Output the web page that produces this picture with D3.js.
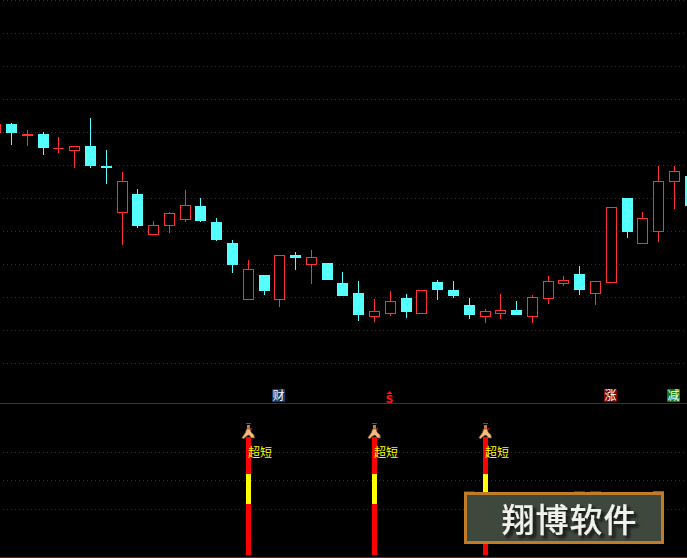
<!DOCTYPE html>
<html><head><meta charset="utf-8">
<script src="https://cdn.jsdelivr.net/npm/d3@7/dist/d3.min.js"></script>
<style>html,body{margin:0;padding:0;background:#000;overflow:hidden}svg{display:block}</style>
</head><body><div id="chart"></div>
<script>
// Candle values (index 0 is the candle cut off at the left edge)
const open  = [271,279,268,269,255,253,257,237,191,209,169,178,184,197,181,160,104,128,104,148,139,140,120,110,87,90,105,90,121,113,98,87,90,93,87,105,120,129,110,121,205,160,172,222,227];
const close = [279,270,269,255,255,257,237,235,222,177,178,190,198,182,163,138,134,112,148,145,146,123,107,88,92,102,91,113,113,107,88,92,93,88,106,122,123,113,122,196,171,185,222,232,197];
const high  = [283,280,273,271,266,257,285,253,231,214,182,191,213,205,185,163,143,128,148,151,153,140,131,122,104,112,109,113,123,122,105,94,109,102,108,127,127,137,122,196,205,191,237,237,227];
const low   = [270,258,257,248,250,235,235,219,158,175,168,170,181,181,162,130,103,108,96,133,119,123,107,82,81,87,85,89,103,105,84,80,84,88,80,99,117,108,98,120,165,159,161,194,197];

// Gridline levels
const upperGrid = [403,370,337,304,271,238,205,172,139,106,73,40];
const lowerGrid = [105,77,48];

// Lower panel signals
const signalCandles = [16,24,31];
const signalLabel = "超短";
const signalStops = [2,53,83,120];
const signalColors = ["#ff0000","#ffff00","#ff0000"];

// Event badges
const badgeCandles = [18,39,43];
const badgeTexts = ["财","涨","减"];
const badgeColors = ["#0c3c6e","#7e0606","#0a7d14"];
const dollarCandle = 25;
const watermarkText = "翔博软件";

// Marks that peek out above the watermark
const hiddenCandles = [30,37,38,42];
const hiddenColors = ["#7a1818","#8a1414","#8a1414","#6a6a20"];

const W = 687, H = 558;
const svg = d3.select("#chart").append("svg").attr("width",W).attr("height",H)
  .style("background","#000");

const x = d3.scaleLinear().domain([0,44]).range([-4.18,690.14]);
const px = k => Math.floor(x(k));
const y = d3.scaleLinear().domain([0,403]).range([403,0]);
const y2 = d3.scaleLinear().domain([0,154]).range([557,403]);

const CJK = "'Noto Sans CJK SC','Noto Sans',sans-serif";
const RED = "#ff3232", CYAN = "#54ffff", GRID = "#8a0c0c";

// Grid
svg.append("g").selectAll("line").data(upperGrid).join("line")
  .attr("x1",3).attr("x2",W)
  .attr("y1",d=>y(d)+0.5).attr("y2",d=>y(d)+0.5)
  .attr("stroke",GRID).attr("stroke-dasharray","1 3");
svg.append("g").selectAll("line").data(lowerGrid).join("line")
  .attr("x1",3).attr("x2",W)
  .attr("y1",d=>y2(d)+0.5).attr("y2",d=>y2(d)+0.5)
  .attr("stroke",GRID).attr("stroke-dasharray","1 3");
svg.append("g").selectAll("line").data([403,557]).join("line")
  .attr("x1",0).attr("x2",W).attr("y1",d=>d+0.5).attr("y2",d=>d+0.5)
  .attr("stroke","#a00c0c");

// Candles
const rows = open.map((o,i)=>({k:i,o,c:close[i],h:high[i],l:low[i],up:close[i]>=o}));
const g = svg.append("g");
g.selectAll("line").data(rows).join("line")
  .attr("x1",d=>px(d.k)+0.5).attr("x2",d=>px(d.k)+0.5)
  .attr("y1",d=>y(d.h)).attr("y2",d=>y(d.l))
  .attr("stroke",d=>d.up?RED:CYAN);
g.selectAll("rect").data(rows).join("rect")
  .each(function(d){
    const top = y(Math.max(d.o,d.c)), bot = y(Math.min(d.o,d.c));
    const s = d3.select(this);
    if(d.up && bot>top){
      s.attr("x",px(d.k)-5+0.5).attr("width",10)
       .attr("y",top+0.5).attr("height",bot-top)
       .attr("fill","#000").attr("stroke",RED);
    } else if(d.up){
      s.attr("x",px(d.k)-5).attr("width",11)
       .attr("y",top).attr("height",1)
       .attr("fill",RED);
    } else {
      s.attr("x",px(d.k)-5).attr("width",11)
       .attr("y",top).attr("height",bot-top)
       .attr("fill",CYAN);
    }
  });

// Signal columns
const sig = svg.append("g").selectAll("g").data(signalCandles).join("g");
signalColors.forEach((col,i)=>{
  sig.append("rect")
    .attr("x",d=>px(d)-2).attr("width",5)
    .attr("y",y2(signalStops[i+1])).attr("height",y2(signalStops[i])-y2(signalStops[i+1]))
    .attr("fill",col);
});
sig.append("text")
  .attr("x",d=>px(d)).attr("y",457)
  .attr("fill","#ffff00").attr("font-family",CJK).attr("font-size",12)
  .text(signalLabel);

// Runner icon above each column
const runner = sig.append("g").attr("transform",d=>`translate(${px(d)+0.5},0)`);
runner.append("rect").attr("x",-2.5).attr("y",423).attr("width",5).attr("height",1).attr("fill","#e01818");
runner.append("rect").attr("x",-1.5).attr("y",425).attr("width",3).attr("height",4).attr("fill","#c87a34");
runner.append("path").attr("d","M-2,429 L2,429 L2.5,432 L5.5,435 L6,438 L3,438 L0.5,435 L-2.5,436.5 L-5,439 L-6.5,437.5 L-3,432.5 Z")
  .attr("fill","#f4bc80").attr("stroke","#7a4a1c").attr("stroke-width",0.7);
runner.append("rect").attr("x",2).attr("y",428).attr("width",1.5).attr("height",1.5).attr("fill","#e01010");

// Badges
const bd = svg.append("g").selectAll("g").data(badgeCandles).join("g");
bd.append("rect")
  .attr("x",d=>px(d)-7).attr("y",389).attr("width",13).attr("height",13)
  .attr("fill",(d,i)=>badgeColors[i]);
bd.append("text")
  .attr("x",d=>px(d)-0.5).attr("y",400).attr("text-anchor","middle")
  .attr("fill","#fff").attr("font-family",CJK).attr("font-size",12)
  .text((d,i)=>badgeTexts[i]);

const dollar = svg.append("g");
dollar.append("path")
  .attr("d",`M${px(dollarCandle)-0.5},391 l3,3 h-6 Z`).attr("fill","#ff1010");
dollar.append("text")
  .attr("x",px(dollarCandle)-0.5).attr("y",402.5).attr("text-anchor","middle")
  .attr("fill","#ff1010").attr("font-family","'DejaVu Sans',sans-serif")
  .attr("font-weight","bold").attr("font-size",11).text("S");

// Fragments behind the watermark
svg.append("g").selectAll("rect").data(hiddenCandles).join("rect")
  .attr("x",d=>px(d)-5).attr("y",491).attr("width",11).attr("height",1)
  .attr("fill",(d,i)=>hiddenColors[i]);

// Watermark
const defs = svg.append("defs");
const f = defs.append("filter").attr("id","shadow").attr("x","-10%").attr("y","-20%").attr("width","125%").attr("height","150%");
f.append("feDropShadow").attr("dx",3).attr("dy",3).attr("stdDeviation",1.6)
  .attr("flood-color","#0c100c").attr("flood-opacity",0.95);
const wm = svg.append("g");
wm.append("rect").attr("x",465.5).attr("y",493.5).attr("width",197).attr("height",49)
  .attr("fill","#3f483d").attr("stroke","#c07c28").attr("stroke-width",3);
wm.append("text")
  .attr("x",569.5).attr("y",532).attr("text-anchor","middle")
  .attr("font-family",CJK).attr("font-size",33).attr("font-weight",500).attr("letter-spacing","1px")
  .attr("fill","#f0f0ec").attr("filter","url(#shadow)")
  .text(watermarkText);
</script></body></html>
